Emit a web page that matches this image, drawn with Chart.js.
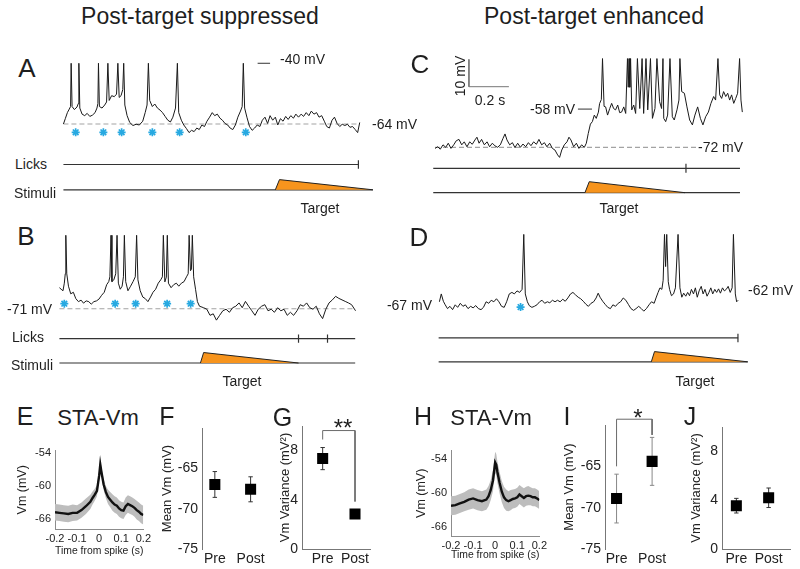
<!DOCTYPE html>
<html>
<head>
<meta charset="utf-8">
<title>Post-target suppressed / enhanced</title>
<script src="https://cdn.jsdelivr.net/npm/chart.js@4.4.1/dist/chart.umd.min.js"></script>
<style>
html,body{margin:0;padding:0;background:#fff}
body{position:relative;width:800px;height:569px;overflow:hidden;font-family:"Liberation Sans",Arial,Helvetica,sans-serif;color:#1e1e1e}
canvas{position:absolute}
.lbl{position:absolute;white-space:nowrap;line-height:1}
</style>
</head>
<body>
<script>
// ================= DATA =================
// Membrane potential traces: [time (s), Vm (mV)], spikes listed separately
const traceA = [[0,-64.0],[0.010,-61.9],[0.021,-59.5],[0.031,-58.1],[0.038,-57.1],[0.046,-57.1],[0.058,-58.3],[0.072,-57.3],[0.079,-55.9],[0.087,-57.7],[0.099,-60.1],[0.113,-60.7],[0.126,-59.8],[0.140,-61.0],[0.154,-60.5],[0.168,-59.5],[0.178,-57.7],[0.183,-55.9],[0.191,-57.1],[0.205,-57.7],[0.219,-56.5],[0.229,-55.3],[0.243,-54.7],[0.256,-52.8],[0.270,-53.2],[0.282,-52.2],[0.296,-53.5],[0.306,-52.8],[0.315,-50.4],[0.326,-56.5],[0.338,-60.7],[0.352,-63.4],[0.369,-64.6],[0.386,-64.1],[0.403,-64.4],[0.421,-62.9],[0.434,-59.5],[0.444,-56.5],[0.458,-54.7],[0.472,-57.1],[0.485,-56.1],[0.499,-57.7],[0.513,-58.5],[0.526,-59.5],[0.540,-61.0],[0.554,-62.5],[0.568,-63.2],[0.581,-61.3],[0.595,-57.7],[0.612,-59.5],[0.626,-62.5],[0.639,-64.4],[0.653,-65.8],[0.667,-67.4],[0.680,-66.5],[0.694,-67.0],[0.708,-65.6],[0.721,-66.2],[0.735,-64.4],[0.749,-65.0],[0.762,-62.9],[0.776,-61.3],[0.790,-59.5],[0.803,-60.7],[0.817,-60.1],[0.831,-61.7],[0.844,-62.5],[0.858,-63.8],[0.872,-64.4],[0.885,-65.6],[0.899,-66.2],[0.913,-64.4],[0.926,-61.3],[0.940,-58.9],[0.949,-57.1],[0.962,-57.7],[0.974,-61.3],[0.988,-65.0],[1.002,-66.5],[1.015,-65.6],[1.029,-64.4],[1.043,-65.0],[1.056,-62.5],[1.070,-61.3],[1.084,-63.8],[1.097,-60.7],[1.111,-62.5],[1.125,-61.3],[1.138,-64.4],[1.152,-61.9],[1.166,-62.9],[1.180,-61.0],[1.193,-62.2],[1.207,-60.7],[1.221,-61.7],[1.234,-60.1],[1.248,-61.3],[1.262,-60.1],[1.275,-61.0],[1.289,-59.5],[1.303,-60.7],[1.316,-58.9],[1.330,-60.1],[1.344,-59.5],[1.357,-61.3],[1.371,-60.7],[1.385,-62.9],[1.398,-65.0],[1.412,-65.6],[1.426,-62.5],[1.439,-61.3],[1.453,-63.8],[1.467,-65.0],[1.480,-64.1],[1.494,-64.6],[1.508,-64.1],[1.521,-65.3],[1.535,-65.0],[1.549,-66.2],[1.562,-67.4],[1.573,-63.4]];
const spikesA = [0.041,0.082,0.186,0.236,0.289,0.320,0.451,0.605,0.955];
const spikePeakA = -40;
const starsA = [0.065,0.212,0.309,0.472,0.617,0.968];
const licksA = [1.566];
const stimA = [[1.125,0],[1.147,1],[1.643,0]];

const traceB = [[0,-62.7],[0.009,-63.3],[0.019,-63.9],[0.026,-60.9],[0.031,-57.2],[0.039,-57.2],[0.048,-62.1],[0.060,-65.1],[0.074,-64.5],[0.087,-67.0],[0.101,-68.2],[0.115,-67.6],[0.128,-68.8],[0.142,-67.9],[0.156,-68.2],[0.169,-69.2],[0.183,-68.2],[0.197,-67.9],[0.210,-67.2],[0.224,-65.7],[0.238,-64.5],[0.251,-61.5],[0.262,-60.3],[0.268,-58.4],[0.279,-60.3],[0.289,-59.6],[0.299,-57.2],[0.313,-60.9],[0.323,-63.3],[0.333,-62.1],[0.340,-58.4],[0.352,-60.3],[0.364,-63.9],[0.378,-62.1],[0.391,-60.3],[0.403,-58.4],[0.417,-59.6],[0.429,-63.9],[0.443,-66.4],[0.456,-67.0],[0.470,-68.2],[0.484,-66.4],[0.497,-64.5],[0.511,-63.3],[0.525,-60.9],[0.538,-59.6],[0.547,-58.4],[0.560,-60.4],[0.568,-58.5],[0.579,-60.9],[0.593,-62.7],[0.607,-61.5],[0.621,-60.9],[0.634,-62.1],[0.648,-60.9],[0.662,-60.3],[0.675,-58.4],[0.684,-57.2],[0.696,-56.0],[0.701,-55.5],[0.713,-58.4],[0.723,-63.3],[0.733,-68.2],[0.744,-70.0],[0.766,-70.6],[0.783,-71.2],[0.800,-73.6],[0.817,-73.0],[0.834,-75.5],[0.851,-73.6],[0.868,-71.8],[0.885,-71.2],[0.903,-72.4],[0.920,-70.6],[0.937,-70.0],[0.954,-68.7],[0.971,-70.6],[0.988,-68.1],[1.005,-70.0],[1.022,-71.8],[1.039,-73.6],[1.056,-71.2],[1.074,-70.0],[1.091,-69.4],[1.108,-71.8],[1.125,-71.2],[1.142,-72.4],[1.159,-70.6],[1.176,-71.8],[1.193,-71.2],[1.210,-73.6],[1.227,-72.4],[1.244,-73.6],[1.262,-71.8],[1.279,-69.4],[1.296,-70.0],[1.313,-68.7],[1.330,-70.6],[1.347,-71.2],[1.364,-70.0],[1.381,-73.0],[1.398,-74.9],[1.415,-71.2],[1.432,-68.7],[1.450,-67.5],[1.467,-66.1],[1.484,-66.9],[1.501,-67.5],[1.518,-68.1],[1.535,-68.7],[1.552,-69.4],[1.573,-71.8]];
const spikesB = [0.034,0.274,0.306,0.345,0.410,0.552,0.573,0.689,0.706];
const spikePeakB = -42;
const starsB = [0.026,0.296,0.405,0.572,0.697];
const licksB = [1.270,1.424];
const stimB = [[0.749,0],[0.766,1],[1.270,0]];

const traceC = [[0,-72.4],[0.014,-71.8],[0.027,-72.7],[0.041,-71.1],[0.055,-72.0],[0.068,-70.5],[0.082,-72.4],[0.096,-71.1],[0.109,-69.6],[0.123,-69.1],[0.137,-71.1],[0.150,-70.0],[0.164,-71.8],[0.178,-70.0],[0.191,-70.9],[0.205,-69.3],[0.215,-68.3],[0.226,-70.5],[0.239,-69.1],[0.253,-71.1],[0.267,-70.0],[0.280,-71.8],[0.294,-70.5],[0.308,-71.5],[0.321,-72.0],[0.335,-71.1],[0.349,-68.7],[0.359,-67.1],[0.369,-69.3],[0.383,-71.1],[0.397,-70.3],[0.410,-72.1],[0.424,-70.5],[0.438,-72.0],[0.451,-70.8],[0.465,-71.8],[0.479,-70.3],[0.492,-71.4],[0.506,-70.0],[0.520,-70.9],[0.533,-69.1],[0.547,-71.1],[0.561,-70.3],[0.574,-71.8],[0.588,-70.5],[0.602,-72.4],[0.615,-73.0],[0.629,-74.8],[0.639,-75.7],[0.650,-73.0],[0.663,-71.1],[0.677,-70.0],[0.687,-68.3],[0.697,-69.3],[0.711,-71.8],[0.725,-70.5],[0.738,-72.4],[0.752,-71.1],[0.766,-72.0],[0.776,-70.5],[0.786,-66.9],[0.797,-63.5],[0.807,-62.6],[0.817,-60.2],[0.827,-61.4],[0.838,-59.1],[0.844,-56.0],[0.853,-54.5],[0.867,-57.0],[0.875,-57.2],[0.885,-60.2],[0.896,-57.8],[0.906,-55.9],[0.916,-57.8],[0.926,-58.3],[0.937,-56.5],[0.947,-59.3],[0.957,-59.1],[0.968,-57.2],[0.978,-59.6],[0.991,-50.0],[0.999,-50.0],[1.009,-58.3],[1.019,-56.5],[1.029,-59.6],[1.050,-57.8],[1.070,-59.6],[1.091,-58.3],[1.115,-61.4],[1.128,-57.8],[1.152,-55.3],[1.162,-57.8],[1.173,-61.4],[1.183,-62.6],[1.193,-60.2],[1.217,-60.8],[1.227,-62.0],[1.241,-58.3],[1.251,-54.7],[1.265,-51.6],[1.279,-52.2],[1.292,-57.2],[1.306,-62.0],[1.320,-63.8],[1.333,-60.2],[1.347,-57.2],[1.361,-61.4],[1.374,-63.8],[1.388,-60.8],[1.402,-59.1],[1.415,-55.9],[1.429,-53.4],[1.439,-54.7],[1.460,-52.8],[1.470,-54.1],[1.480,-51.6],[1.491,-53.4],[1.501,-52.2],[1.511,-54.7],[1.521,-52.8],[1.532,-55.9],[1.542,-54.1],[1.552,-52.2],[1.569,-54.7],[1.576,-59.1]];
const spikesC = [0.859,0.987,0.995,1.003,1.038,1.062,1.082,1.105,1.138,1.169,1.205,1.256,1.451,1.562];
const spikePeakC = -39.5;
const licksC = [1.287];
const stimC = [[0.769,0],[0.791,1],[1.282,0]];

const traceD = [[0,-65.9],[0.010,-62.8],[0.021,-65.7],[0.031,-67.1],[0.043,-68.6],[0.056,-67.7],[0.070,-69.0],[0.084,-67.1],[0.097,-68.1],[0.111,-66.5],[0.125,-67.7],[0.138,-67.1],[0.152,-68.6],[0.166,-67.7],[0.179,-68.3],[0.193,-67.4],[0.207,-68.6],[0.221,-69.0],[0.234,-68.1],[0.248,-65.9],[0.262,-66.5],[0.275,-65.3],[0.289,-65.9],[0.303,-64.7],[0.316,-65.9],[0.330,-67.7],[0.344,-68.1],[0.357,-65.9],[0.371,-62.8],[0.385,-62.2],[0.398,-62.8],[0.412,-61.6],[0.426,-62.2],[0.439,-61.0],[0.456,-62.8],[0.467,-65.9],[0.477,-67.4],[0.491,-68.1],[0.504,-67.7],[0.518,-67.1],[0.532,-65.9],[0.545,-65.3],[0.559,-66.5],[0.573,-65.9],[0.586,-66.3],[0.600,-65.3],[0.614,-65.9],[0.627,-65.3],[0.641,-65.9],[0.655,-64.9],[0.668,-65.7],[0.682,-64.4],[0.696,-62.8],[0.709,-62.2],[0.723,-63.2],[0.737,-64.1],[0.750,-64.7],[0.764,-65.7],[0.778,-66.9],[0.791,-67.7],[0.805,-66.5],[0.819,-65.9],[0.832,-64.4],[0.843,-62.5],[0.853,-64.1],[0.867,-65.7],[0.880,-66.9],[0.894,-68.1],[0.908,-68.6],[0.921,-67.1],[0.935,-67.7],[0.949,-66.5],[0.962,-65.9],[0.976,-64.4],[0.990,-65.3],[1.003,-66.9],[1.017,-68.6],[1.031,-69.3],[1.044,-68.6],[1.058,-67.7],[1.072,-68.6],[1.085,-69.6],[1.099,-68.6],[1.113,-67.1],[1.126,-65.9],[1.140,-66.5],[1.150,-64.4],[1.161,-62.2],[1.171,-60.4],[1.181,-61.0],[1.188,-57.4],[1.201,-52.0],[1.215,-58.0],[1.222,-61.0],[1.232,-63.5],[1.243,-62.8],[1.253,-60.4],[1.277,-60.4],[1.287,-64.1],[1.297,-62.5],[1.308,-63.7],[1.318,-62.2],[1.328,-63.5],[1.338,-61.0],[1.349,-62.8],[1.359,-60.4],[1.369,-64.1],[1.379,-61.6],[1.390,-59.8],[1.400,-62.8],[1.410,-61.0],[1.421,-63.7],[1.431,-62.2],[1.441,-60.4],[1.451,-62.8],[1.462,-61.0],[1.472,-62.2],[1.482,-60.8],[1.492,-62.5],[1.503,-60.4],[1.513,-61.6],[1.523,-61.0],[1.533,-59.8],[1.544,-62.2],[1.554,-60.4],[1.571,-62.8],[1.578,-65.9],[1.586,-65.3]];
const spikesD = [0.448,1.195,1.207,1.267,1.561];
const spikePeakD = -39.3;
const starsD = [0.431];
const licksD = [1.585];
const stimD = [[1.125,0],[1.142,1],[1.637,0]];

// Spike-triggered average Vm (E, H)
const staTime  = [-0.2,-0.18,-0.16,-0.14,-0.12,-0.1,-0.08,-0.06,-0.04,-0.03,-0.02,-0.01,0,0.005,0.01,0.02,0.03,0.04,0.05,0.06,0.07,0.08,0.09,0.1,0.11,0.12,0.13,0.14,0.15,0.16,0.17,0.18,0.19,0.2];
const staMeanE = [-64.7,-64.8,-64.9,-65.0,-64.8,-64.8,-64.3,-63.6,-62.8,-62.1,-61.5,-60.8,-58.0,-56.0,-57.3,-59.6,-61.0,-61.9,-62.4,-62.9,-63.3,-63.5,-64.0,-64.3,-64.4,-63.6,-63.2,-63.4,-63.6,-63.9,-64.3,-64.6,-65.0,-65.2];
const staErrE  = [1.5,1.5,1.5,1.5,1.5,1.4,1.4,1.4,1.3,1.2,1.1,1.0,0.9,0.9,0.9,1.0,1.1,1.3,1.4,1.5,1.5,1.5,1.5,1.5,1.5,1.6,1.6,1.6,1.6,1.6,1.7,1.7,1.7,1.7];
const staMeanH = [-62.3,-62.2,-61.9,-61.6,-61.2,-61.0,-61.3,-61.5,-61.2,-60.6,-59.5,-57.8,-54.6,-55.0,-56.3,-58.2,-59.8,-60.8,-61.3,-61.5,-61.3,-61.1,-61.0,-60.8,-60.3,-60.6,-60.9,-60.6,-60.5,-60.6,-60.8,-60.8,-61.0,-61.3];
const staErrH  = [1.7,1.7,1.7,1.7,1.8,1.8,1.8,1.8,1.8,1.8,1.8,1.9,1.9,1.9,1.9,1.9,1.9,1.9,1.9,1.8,1.8,1.7,1.7,1.7,1.7,1.7,1.7,1.7,1.7,1.6,1.6,1.6,1.6,1.6];
const staXTicks = [-0.2,-0.1,0,0.1,0.2];
const staYTicks = [-66,-60,-54];

// Pre / Post summaries (F, G, I, J)
const groups = ['Pre','Post'];
const meanVmTicks = [-75,-70,-65];
const varTicks = [0,4,8];
const meanVmF = [-67.0,-67.6];   const meanVmErrF = [1.6,1.55];
const varG    = [7.35,2.85];     const varErrG    = [0.9,0.3];
const meanVmI = [-68.9,-64.4];   const meanVmErrI = [2.95,2.9];
const varJ    = [3.55,4.2];      const varErrJ    = [0.6,0.8];
const bracketG = [8.9,9.63,3.86];     // significance bracket levels (Vm variance)
const bracketI = [-65.0,-59.3,-61.2]; // significance bracket levels (mean Vm)

// ================= RENDERING =================
Chart.defaults.font.family = '"Liberation Sans", Arial, Helvetica, sans-serif';
Chart.defaults.color = '#222';

const PX_PER_MV = 2.73, PX_PER_S = 195, LICK_HALF_PX = 4.5;

function makeCanvas(l, t, w, h) {
  const c = document.createElement('canvas');
  c.width = w; c.height = h;
  c.style.left = l + 'px'; c.style.top = t + 'px';
  c.style.width = w + 'px'; c.style.height = h + 'px';
  document.body.appendChild(c);
  return c;
}
function baseOpts() {
  return {responsive:false, maintainAspectRatio:false, animation:false, devicePixelRatio:1, events:[],
          plugins:{legend:{display:false}, tooltip:{enabled:false}}};
}
function withSpikes(trace, spikes, peak) {
  const pts = trace.map(p => ({x:p[0], y:p[1]}));
  spikes.forEach(t => pts.push({x:t, y:peak}));
  pts.sort((a,b) => a.x - b.x);
  return pts;
}

function tracePanel(p) {
  const L = p.layout;
  const cv = makeCanvas(L.left, L.top, L.width, L.height);
  const bottom = L.top + L.height;
  const amp = L.stimY - L.stimTopY;
  const scales = {
    x:  {type:'linear', display:false, min:(L.left - L.x0)/PX_PER_S, max:(L.left + L.width - L.x0)/PX_PER_S},
    y:  {type:'linear', display:false, min:L.baseV - (bottom - L.baseY)/PX_PER_MV, max:L.baseV + (L.baseY - L.top)/PX_PER_MV},
    yl: {type:'linear', axis:'y', display:false, min:-(bottom - L.licksY)/LICK_HALF_PX, max:(L.licksY - L.top)/LICK_HALF_PX},
    ys: {type:'linear', axis:'y', display:false, min:-(bottom - L.stimY)/amp, max:(L.stimY - L.top)/amp}
  };
  const ds = [];
  if (p.dash) ds.push({data:[{x:p.dash[0], y:L.baseV},{x:p.dash[1], y:L.baseV}], borderColor:'#a3a3a3', borderWidth:1.2, borderDash:[5,3], pointRadius:0, order:8});
  ds.push({data:withSpikes(p.trace, p.spikes, p.peak), borderColor:'#1a1a1a', borderWidth:1, pointRadius:0, order:2});
  if (p.stars) ds.push({data:p.stars.map(t => ({x:t, y:p.starV})), showLine:false, pointStyle:'star', pointRadius:4, pointBorderColor:'#27a9e1', pointBorderWidth:1.7, pointBackgroundColor:'#27a9e1', order:1});
  ds.push({yAxisID:'yl', data:[{x:p.lineStart, y:0},{x:p.licksEnd, y:0}], borderColor:'#333', borderWidth:1.2, pointRadius:0, order:5});
  const lt = [];
  p.licks.forEach(t => { lt.push({x:t, y:-1},{x:t, y:1},{x:t, y:null}); });
  ds.push({yAxisID:'yl', data:lt, borderColor:'#333', borderWidth:1.2, pointRadius:0, spanGaps:false, order:5});
  ds.push({yAxisID:'ys', data:[{x:p.lineStart, y:0},{x:p.stimEnd, y:0}], borderColor:'#333', borderWidth:1.2, pointRadius:0, order:4});
  ds.push({yAxisID:'ys', data:p.stim.map(s => ({x:s[0], y:s[1]})), borderColor:'#222', borderWidth:1, backgroundColor:'#f7941d', fill:'origin', pointRadius:0, order:3});
  (p.extra || []).forEach(d => ds.push(Object.assign({borderColor:'#333', borderWidth:1, pointRadius:0, order:6}, d)));
  const opts = baseOpts();
  opts.layout = {padding:0};
  opts.scales = scales;
  new Chart(cv, {type:'line', data:{datasets:ds}, options:opts});
}

function staChart(s) {
  const cv = makeCanvas(s.left, s.top, s.width, s.height);
  const up = staTime.map((t,i) => ({x:t, y:s.mean[i] + s.err[i]}));
  const lo = staTime.map((t,i) => ({x:t, y:s.mean[i] - s.err[i]}));
  const mn = staTime.map((t,i) => ({x:t, y:s.mean[i]}));
  const opts = baseOpts();
  opts.layout = {padding:{top:s.padTop, right:s.padRight, left:0, bottom:0}};
  opts.scales = {
    x: {type:'linear', min:-0.2, max:0.2,
        afterBuildTicks: a => { a.ticks = staXTicks.map(v => ({value:v})); },
        afterFit: a => { a.height = s.xH; },
        grid:{display:false, drawTicks:false}, border:{display:true, color:'#8c8c8c', width:1},
        ticks:{autoSkip:false, maxRotation:0, padding:s.xTickPad, font:{size:11}, color:'#222', callback: v => String(v)},
        title:{display:true, text:'Time from spike (s)', font:{size:11.5}, color:'#222', padding:{top:0, bottom:s.xTitlePad}}},
    y: {type:'linear', min:s.yMin, max:s.yMax,
        afterBuildTicks: a => { a.ticks = staYTicks.map(v => ({value:v})); },
        afterFit: a => { a.width = s.yW; },
        grid:{display:false, drawTicks:false}, border:{display:true, color:'#8c8c8c', width:1},
        ticks:{padding:4, font:{size:11}, color:'#222', callback: v => String(v)},
        title:{display:true, text:'Vm (mV)', font:{size:12.5}, color:'#222', padding:{top:s.yTitlePad, bottom:0}}}
  };
  new Chart(cv, {type:'line', data:{datasets:[
    {data:up, borderWidth:0, borderColor:'rgba(0,0,0,0)', pointRadius:0, fill:false, order:3},
    {data:lo, borderWidth:0, borderColor:'rgba(0,0,0,0)', pointRadius:0, fill:'-1', backgroundColor:'#bdbdbd', order:2},
    {data:mn, borderColor:'#111', borderWidth:2.4, pointRadius:0, order:1}
  ]}, options:opts});
}

function groupChart(g) {
  const cv = makeCanvas(g.left, g.top, g.width, g.height);
  const marks = g.mean.map((m,i) => ({x:i+1, y:m}));
  const bars = [];
  g.mean.forEach((m,i) => { bars.push({x:i+1, y:m - g.err[i]},{x:i+1, y:m + g.err[i]},{x:i+1, y:null}); });
  const ds = [
    {data:marks, showLine:false, pointStyle:'rect', pointRadius:7.8, pointBackgroundColor:'#000', pointBorderColor:'#000', pointBorderWidth:0, order:1},
    {data:bars, borderColor:g.errColor, borderWidth:1, spanGaps:false, pointStyle:'line', pointRadius:2.2, pointBorderColor:g.errColor, pointBorderWidth:1, order:2}
  ];
  if (g.bracket) ds.push({data:[{x:1,y:g.bracket[0]},{x:1,y:g.bracket[1]},{x:2,y:g.bracket[1]},{x:2,y:g.bracket[2]}],
                          borderColor:'#6a6a6a', borderWidth:1, pointRadius:0, clip:false, order:3});
  const opts = baseOpts();
  opts.layout = {padding:{top:g.padTop, right:0, left:0, bottom:0}};
  opts.scales = {
    x: {type:'linear', min:g.xMin, max:g.xMax,
        afterBuildTicks: a => { a.ticks = groups.map((_,i) => ({value:i+1})); },
        afterFit: a => { a.height = g.xH; },
        grid:{display:false, drawTicks:false}, border:{display:!!g.xBorder, color:'#777', width:1},
        ticks:{autoSkip:false, maxRotation:0, padding:g.xTickPad, font:{size:14}, color:'#222', callback: v => groups[Math.round(v)-1]}},
    y: {type:'linear', min:g.yMin, max:g.yMax,
        afterBuildTicks: a => { a.ticks = g.ticks.map(v => ({value:v})); },
        afterFit: a => { a.width = g.yW; },
        grid:{display:false, drawTicks:false}, border:{display:true, color:'#777', width:1},
        ticks:{padding:4, font:{size:14}, color:'#222', callback: v => String(v)},
        title:{display:true, text:g.title, font:{size:13}, color:'#222', padding:{top:g.titlePad, bottom:0}}}
  };
  new Chart(cv, {type:'line', data:{datasets:ds}, options:opts});
}

// ---- trace panels ----
tracePanel({layout:{left:50, top:46, width:335, height:156, x0:58, baseV:-64, baseY:124, licksY:167.7, stimY:195, stimTopY:184},
  trace:traceA, spikes:spikesA, peak:spikePeakA, stars:starsA, starV:-67.3, dash:[0,1.573],
  lineStart:0, licks:licksA, licksEnd:1.566, stim:stimA, stimEnd:1.643,
  extra:[{data:[{x:1.031,y:-40},{x:1.097,y:-40}], borderColor:'#333'}]});

tracePanel({layout:{left:46, top:220, width:330, height:158, x0:54, baseV:-71, baseY:309.5, licksY:341.7, stimY:368, stimTopY:356.7},
  trace:traceB, spikes:spikesB, peak:spikePeakB, stars:starsB, starV:-69.0, dash:[0,1.571],
  lineStart:0, licks:licksB, licksEnd:1.571, stim:stimB, stimEnd:1.571});

tracePanel({layout:{left:425, top:46, width:335, height:156, x0:435, baseV:-72, baseY:147.3, licksY:168.3, stimY:192.7, stimTopY:181.7},
  trace:traceC, spikes:spikesC, peak:spikePeakC, dash:[0,1.343],
  lineStart:-0.009, licks:licksC, licksEnd:1.564, stim:stimC, stimEnd:1.564,
  extra:[{data:[{x:0.733,y:-58},{x:0.805,y:-58}], borderColor:'#333'},
         {data:[{x:0.174,y:-39.8},{x:0.174,y:-49.8},{x:0.379,y:-49.8}], borderColor:'#777'}]});

tracePanel({layout:{left:425, top:220, width:335, height:158, x0:434, baseV:-67, baseY:305, licksY:341, stimY:366.7, stimTopY:355.7},
  trace:traceD, spikes:spikesD, peak:spikePeakD, stars:starsD, starV:-68,
  lineStart:-0.004, licks:licksD, licksEnd:1.586, stim:stimD, stimEnd:1.637});

// ---- STA panels ----
staChart({left:0, top:440, width:154, height:129, yW:55, padTop:7, padRight:9, xH:40,
  yMin:-67.74, yMax:-53.48, mean:staMeanE, err:staErrE, xTickPad:3, xTitlePad:11, yTitlePad:15});
staChart({left:400, top:440, width:150, height:129, yW:51, padTop:6, padRight:10, xH:33,
  yMin:-67.69, yMax:-52.48, mean:staMeanH, err:staErrH, xTickPad:3, xTitlePad:7, yTitlePad:14});

// ---- group panels ----
groupChart({left:150, top:405, width:124, height:164, yW:52, padTop:23, xH:20, xMin:0.641, xMax:2.436,
  yMin:-75, yMax:-60, ticks:meanVmTicks, title:'Mean Vm (mV)', titlePad:10, mean:meanVmF, err:meanVmErrF, errColor:'#333', xTickPad:2});
groupChart({left:255, top:405, width:123, height:164, yW:47, padTop:21, xH:20, xMin:0.361, xMax:2.47,
  yMin:0, yMax:10, ticks:varTicks, title:'Vm Variance (mV\u00B2)', titlePad:23, mean:varG, err:varErrG, errColor:'#333', xTickPad:2, xBorder:true, bracket:bracketG});
groupChart({left:555, top:405, width:120, height:164, yW:50, padTop:20, xH:20, xMin:0.675, xMax:2.425,
  yMin:-75, yMax:-60, ticks:meanVmTicks, title:'Mean Vm (mV)', titlePad:7, mean:meanVmI, err:meanVmErrI, errColor:'#888', xTickPad:2, bracket:bracketI});
groupChart({left:670, top:405, width:128, height:164, yW:52, padTop:22, xH:20, xMin:0.556, xMax:2.667,
  yMin:0, yMax:10, ticks:varTicks, title:'Vm Variance (mV\u00B2)', titlePad:19, mean:varJ, err:varErrJ, errColor:'#333', xTickPad:2, xBorder:true});

// ---- text labels ----
function label(text, x, y, size, align, rotate) {
  const d = document.createElement('div');
  d.className = 'lbl';
  d.textContent = text;
  d.style.fontSize = size + 'px';
  d.style.left = x + 'px';
  d.style.top = y + 'px';
  const tx = align === 'center' ? '-50%' : (align === 'right' ? '-100%' : '0');
  d.style.transform = 'translate(' + tx + ',-50%)' + (rotate ? ' rotate(' + rotate + 'deg)' : '');
  document.body.appendChild(d);
}
[
  ['Post-target suppressed', 200, 16, 23, 'center'],
  ['Post-target enhanced', 594, 16, 23, 'center'],
  ['A', 27, 67.5, 26, 'center'], ['B', 26, 236, 26, 'center'],
  ['C', 420, 64, 26, 'center'], ['D', 419, 236.5, 26, 'center'],
  ['E', 25, 416, 25, 'center'], ['STA-Vm', 98, 418, 22, 'center'],
  ['F', 167, 416, 25, 'center'], ['G', 282.5, 417, 25, 'center'],
  ['H', 423, 416, 25, 'center'], ['STA-Vm', 491, 418, 22, 'center'],
  ['I', 567, 416, 25, 'center'], ['J', 690, 416, 25, 'center'],
  ['-40 mV', 280, 59, 14, 'left'], ['-64 mV', 372, 124, 14, 'left'],
  ['Licks', 15, 164, 14, 'left'], ['Stimuli', 14, 193, 14, 'left'], ['Target', 320, 208, 14, 'center'],
  ['-71 mV', 7, 309, 14, 'left'], ['Licks', 12, 337, 14, 'left'], ['Stimuli', 11, 365, 14, 'left'], ['Target', 242, 381, 14, 'center'],
  ['-58 mV', 530, 109, 14, 'left'], ['-72 mV', 698, 147, 14, 'left'],
  ['0.2 s', 490, 100, 14, 'center'], ['Target', 619, 208, 14, 'center'],
  ['-67 mV', 432, 305, 14, 'right'], ['-62 mV', 748, 290, 14, 'left'], ['Target', 695, 381, 14, 'center'],
  ['**', 343, 428, 24, 'center'], ['*', 638, 418, 24, 'center']
].forEach(a => label(a[0], a[1], a[2], a[3], a[4]));
label('10 mV', 460, 76, 14, 'center', -90);
</script>
</body>
</html>
